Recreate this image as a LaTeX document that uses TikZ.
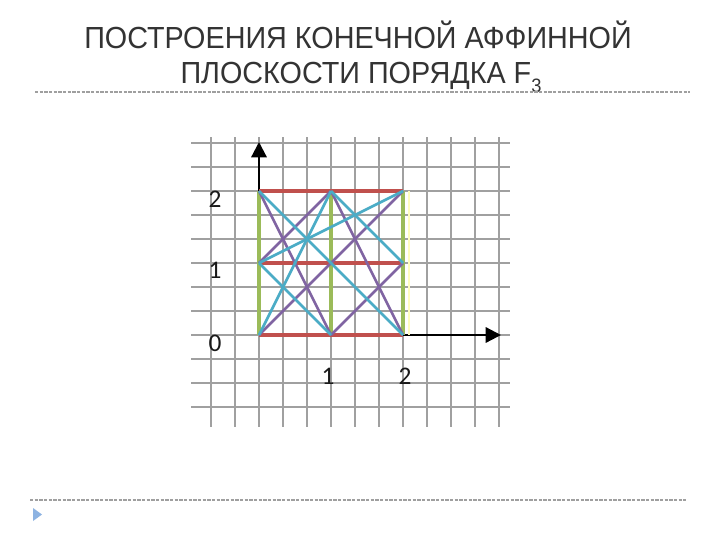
\documentclass[tikz,border=0pt]{standalone}
\usepackage{fontspec}
\setmainfont{Liberation Sans}
\newfontfamily\digitfont{Carlito}
\usetikzlibrary{arrows.meta}
\definecolor{cred}{HTML}{C0504D}
\definecolor{cgreen}{HTML}{9BBB59}
\definecolor{ccyan}{HTML}{4BACC6}
\definecolor{cpurple}{HTML}{8064A2}
\definecolor{cgrid}{HTML}{A0A0A0}
\definecolor{ctitle}{HTML}{333333}
\definecolor{cbullet}{HTML}{8DB3E2}
\begin{document}
\begin{tikzpicture}[x=0.75pt,y=-0.75pt,
  gridline/.style={draw=cgrid,line width=1.3pt},
  axisline/.style={draw=black,line width=1.7pt,-{Triangle[length=11.5pt,width=11.5pt]}},
  redline/.style={draw=cred,line width=2.6pt},
  greenline/.style={draw=cgreen,line width=2.6pt},
  cyanline/.style={draw=ccyan,line width=2pt},
  purpleline/.style={draw=cpurple,line width=1.9pt},
  faintline/.style={draw=yellow!25,line width=1pt},
  lab/.style={font=\digitfont\fontsize{19}{19}\selectfont,text=black!90,inner sep=0pt},
  titletext/.style={font=\fontsize{22}{26}\selectfont,text=ctitle,inner sep=0pt,anchor=base},
  sepline/.style={draw=gray!75,line width=0.8pt,dash pattern=on 2.5pt off 1pt}]
\useasboundingbox (0,0) rectangle (720,540);
\fill[white] (0,0) rectangle (720,540);
% title
\node[titletext] (t1) at (358,48) {\scalebox{0.98}[1.04]{ПОСТРОЕНИЯ КОНЕЧНОЙ АФФИННОЙ}};
\node[titletext] (t2) at (361,83) {\scalebox{0.98}[1.04]{ПЛОСКОСТИ ПОРЯДКА F\raisebox{-0.3em}{\fontsize{14}{14}\selectfont 3}}};
\draw[sepline] (35,92) -- (690,92);
\draw[sepline] (30,500) -- (686,500);
\fill[cbullet] (33,508) -- (42,514.5) -- (33,521) -- cycle;
% grid
\foreach \i in {0,...,12} \draw[gridline] ({211+24*\i},137) -- ({211+24*\i},427);
\foreach \j in {0,...,11} \draw[gridline] (191,{143+24*\j}) -- (510,{143+24*\j});
% points
\coordinate (p00) at (259,335);
\coordinate (p10) at (331,335);
\coordinate (p20) at (403,335);
\coordinate (p01) at (259,263);
\coordinate (p11) at (331,263);
\coordinate (p21) at (403,263);
\coordinate (p02) at (259,191);
\coordinate (p12) at (331,191);
\coordinate (p22) at (403,191);
\coordinate (ytip) at (259,142);
\coordinate (xtip) at (501,335);
\coordinate (fy1) at (409,191);
\coordinate (fy2) at (409,335);
% axes
\draw[axisline] (p00) -- (ytip);
\draw[axisline] (p00) -- (xtip);
% faint artefact
\draw[faintline] (fy1) -- (fy2);
% horizontal lines
\draw[redline] (p00) -- (p20);
\draw[redline] (p01) -- (p21);
\draw[redline] (p02) -- (p22);
% vertical lines
\draw[greenline] (p00) -- (p02);
\draw[greenline] (p10) -- (p12);
\draw[greenline] (p20) -- (p22);
% purple lines
\draw[purpleline] (p02) -- (p10);
\draw[purpleline] (p01) -- (p12);
\draw[purpleline] (p00) -- (p22);
\draw[purpleline] (p10) -- (p21);
\draw[purpleline] (p12) -- (p20);
% cyan lines
\draw[cyanline] (p02) -- (p20);
\draw[cyanline] (p01) -- (p10);
\draw[cyanline] (p00) -- (p12);
\draw[cyanline] (p12) -- (p21);
\draw[cyanline] (p01) -- (p22);
% labels
\node[lab] (ly2) at (215,199) {2};
\node[lab] (ly1) at (215,270) {1};
\node[lab] (ly0) at (215,343) {0};
\node[lab] (lx1) at (328,376) {1};
\node[lab] (lx2) at (405,376) {2};
\end{tikzpicture}
\end{document}
